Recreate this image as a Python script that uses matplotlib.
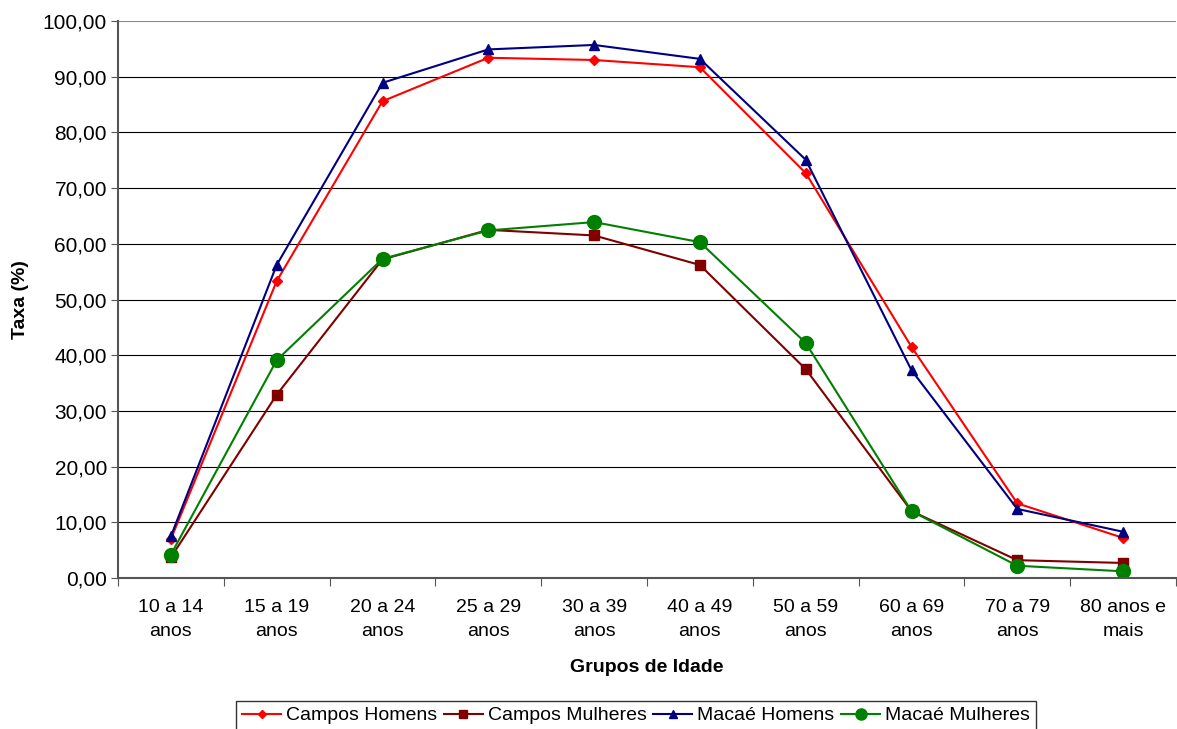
import matplotlib.pyplot as plt
import numpy as np
from matplotlib.ticker import FuncFormatter, FixedLocator

plt.rcParams['font.family'] = ['Liberation Sans', 'DejaVu Sans']

grupos = ['10 a 14\nanos', '15 a 19\nanos', '20 a 24\nanos', '25 a 29\nanos',
          '30 a 39\nanos', '40 a 49\nanos', '50 a 59\nanos', '60 a 69\nanos',
          '70 a 79\nanos', '80 anos e\nmais']

campos_homens = [7.0, 53.3, 85.6, 93.4, 93.0, 91.7, 72.7, 41.5, 13.4, 7.2]
campos_mulheres = [3.7, 32.9, 57.2, 62.5, 61.5, 56.2, 37.5, 12.0, 3.2, 2.7]
macae_homens = [7.5, 56.2, 88.9, 94.9, 95.7, 93.2, 75.1, 37.3, 12.4, 8.3]
macae_mulheres = [4.2, 39.1, 57.3, 62.4, 63.9, 60.3, 42.2, 12.0, 2.2, 1.2]

fig = plt.figure(figsize=(11.77, 7.29), dpi=100)
ax = fig.add_axes([118 / 1177, 1 - 578 / 729, 1058 / 1177, 557 / 729])

x = np.arange(len(grupos))
ax.plot(x, campos_homens, color='#ff0000', marker='D', markersize=5, lw=1.5, label='Campos Homens')
ax.plot(x, campos_mulheres, color='#800000', marker='s', markersize=7, lw=1.5, label='Campos Mulheres')
ax.plot(x, macae_homens, color='#000080', marker='^', markersize=7, lw=1.5, label='Macaé Homens')
ax.plot(x, macae_mulheres, color='#008000', marker='o', markersize=10, lw=1.5, label='Macaé Mulheres')

ax.set_xlim(-0.5, len(grupos) - 0.5)
ax.set_ylim(0, 100)
ax.set_yticks(np.arange(0, 101, 10))
ax.yaxis.set_major_formatter(FuncFormatter(lambda v, p: f'{v:.2f}'.replace('.', ',')))
ax.yaxis.grid(True, color='#000000', lw=0.8)
ax.set_axisbelow(True)
ax.get_ygridlines()[-1].set_color('#888888')

ax.xaxis.set_major_locator(FixedLocator(np.arange(-0.5, len(grupos), 1.0)))
ax.xaxis.set_major_formatter(FuncFormatter(lambda v, p: ''))
ax.xaxis.set_minor_locator(FixedLocator(x))
ax.set_xticklabels(grupos, minor=True, linespacing=1.55)
ax.tick_params(axis='x', which='minor', length=0, pad=15, labelsize=14)
ax.tick_params(axis='x', which='major', length=6, color='#555555', direction='out')
ax.tick_params(axis='y', length=5, color='#555555', labelsize=15, pad=3)

for s in ['top', 'right']:
    ax.spines[s].set_visible(False)
ax.spines['left'].set_color('#555555')
ax.spines['bottom'].set_color('#555555')
ax.spines['left'].set_linewidth(1.5)
ax.spines['bottom'].set_linewidth(1.5)

ax.set_ylabel('Taxa (%)', fontweight='bold', fontsize=14, labelpad=10)
ax.set_xlabel('Grupos de Idade', fontweight='bold', fontsize=14, labelpad=14)

leg = fig.legend(loc='upper center', bbox_to_anchor=(636 / 1177, 1 - 701 / 729), ncol=4,
                 fontsize=14, frameon=True, fancybox=False, edgecolor='black',
                 handlelength=2.0, handletextpad=0.25, columnspacing=0.35,
                 borderpad=0.3, borderaxespad=0, markerscale=0.8)
leg.get_frame().set_linewidth(1.0)

plt.savefig('out.png', dpi=100)
